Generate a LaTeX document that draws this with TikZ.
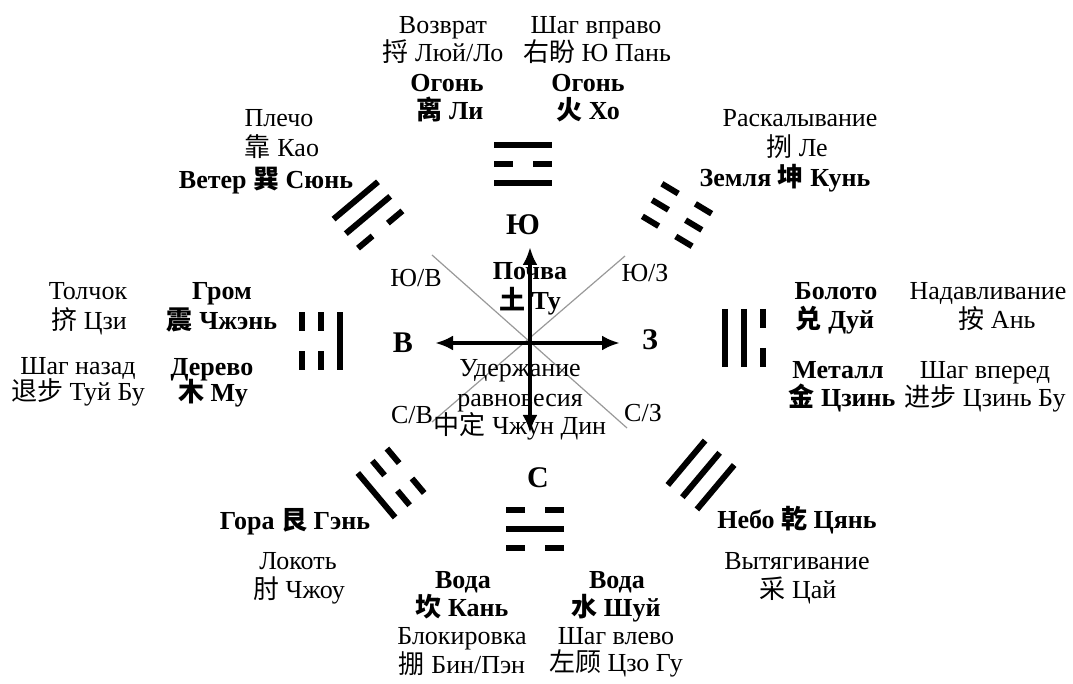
\documentclass[tikz,border=0pt]{standalone}
\usepackage{fontspec}
\setmainfont{Liberation Serif}
\newfontfamily\cjk{Noto Sans CJK SC}
\usepackage{tikz}
\usetikzlibrary{arrows.meta}
\newcommand{\zh}[1]{{\cjk #1}}
% one line of a trigram: 1 = solid, 0 = broken
\newcommand{\yaoline}[2]{%
  \ifnum#1=1 \draw[yao] (-29,#2) -- (29,#2);%
  \else \draw[yao] (-29,#2) -- (-10,#2) (10,#2) -- (29,#2);\fi}
\tikzset{
  yao/.style={line width=3pt},
  lbl/.style={anchor=base, inner sep=0pt, font=\fontsize{13}{15}\selectfont},
  blbl/.style={lbl, font=\fontsize{13}{15}\selectfont\bfseries},
  dirlbl/.style={anchor=base, inner sep=0pt, font=\fontsize{15}{17}\selectfont\bfseries},
  axis/.style={line width=2pt, {Latex[length=9pt,width=7.5pt]}-{Latex[length=9pt,width=7.5pt]}},
  diag/.style={draw=gray!80, line width=0.6pt},
  pics/trigram/.style n args={3}{code={\yaoline{#1}{19}\yaoline{#2}{0}\yaoline{#3}{-19}}}
}

\begin{document}
\begin{tikzpicture}[x=0.5pt, y=-0.5pt]
    \useasboundingbox (0,0) rectangle (1073,684);

    % Compass points
    \coordinate (o) at (530,343);
    \coordinate (up) at (530,247);
    \coordinate (dn) at (530,433);
    \coordinate (lt) at (435,343);
    \coordinate (rt) at (620,343);
    \coordinate (nw) at (432,255);
    \coordinate (se) at (627,428);
    \coordinate (ne) at (625,256);
    \coordinate (sw) at (432,422);

    % Diagonals
    \draw[diag] (nw) -- (se);
    \draw[diag] (ne) -- (sw);

    % Trigrams (inner, middle, outer)
    \pic (li) at (523,164) {trigram={1}{0}{1}};
    \pic[rotate=180] (kan) at (535,529) {trigram={0}{1}{0}};
    \pic[rotate=90] (zhen) at (321,341) {trigram={1}{0}{0}};
    \pic[rotate=-90] (dui) at (744,338) {trigram={1}{1}{0}};
    \pic[rotate=40] (xun) at (368,215) {trigram={0}{1}{1}};
    \pic[rotate=-31] (kun) at (677,215) {trigram={0}{0}{0}};
    \pic[rotate=130] (gen) at (391,483) {trigram={0}{0}{1}};
    \pic[rotate=-130] (qian) at (701,475) {trigram={1}{1}{1}};

    % South, top
    \node[lbl] (lu1) at (443,34) {Возврат};
    \node[lbl] (lu2) at (443,62) {\zh{捋} Люй/Ло};
    \node[blbl] (li1) at (447,92) {Огонь};
    \node[blbl] (li2) at (450,120) {\zh{离} Ли};
    \node[lbl] (yp1) at (596,34) {Шаг вправо};
    \node[lbl] (yp2) at (597,62) {\zh{右盼} Ю Пань};
    \node[blbl] (huo1) at (588,92) {Огонь};
    \node[blbl] (huo2) at (588,120) {\zh{火} Хо};

    % Upper corners
    \node[lbl] (kao1) at (279,127) {Плечо};
    \node[lbl] (kao2) at (282,157) {\zh{靠} Као};
    \node[blbl] (xun1) at (266,189) {Ветер \zh{巽} Сюнь};
    \node[lbl] (lie1) at (800,127) {Раскалывание};
    \node[lbl] (lie2) at (797,157) {\zh{挒} Ле};
    \node[blbl] (kun1) at (785,187) {Земля \zh{坤} Кунь};

    % East, left
    \node[lbl] (ji1) at (88,300) {Толчок};
    \node[lbl] (ji2) at (89,330) {\zh{挤} Цзи};
    \node[lbl] (tb1) at (78,375) {Шаг назад};
    \node[lbl] (tb2) at (78,401) {\zh{退步} Туй Бу};
    \node[blbl] (zh1) at (222,300) {Гром};
    \node[blbl] (zh2) at (222,330) {\zh{震} Чжэнь};
    \node[blbl] (mu1) at (212,376) {Дерево};
    \node[blbl] (mu2) at (213,402) {\zh{木} Му};

    % West, right
    \node[blbl] (dui1) at (836,300) {Болото};
    \node[blbl] (dui2) at (835,329) {\zh{兑} Дуй};
    \node[blbl] (jin1) at (838,379) {Металл};
    \node[blbl] (jin2) at (842,407) {\zh{金} Цзинь};
    \node[lbl] (an1) at (988,300) {Надавливание};
    \node[lbl] (an2) at (997,329) {\zh{按} Ань};
    \node[lbl] (jb1) at (985,379) {Шаг вперед};
    \node[lbl] (jb2) at (985,407) {\zh{进步} Цзинь Бу};

    % Centre
    \node[blbl] (tu1) at (530,280) {Почва};
    \node[blbl] (tu2) at (530,310) {\zh{土} Ту};
    \node[lbl] (zd1) at (520,377) {Удержание};
    \node[lbl] (zd2) at (520,407) {равновесия};
    \node[lbl] (zd3) at (520,435) {\zh{中定} Чжун Дин};
    \node[lbl] (dsw) at (416,287) {Ю/В};
    \node[lbl] (dsz) at (645,282) {Ю/З};
    \node[lbl] (dnw) at (412,424) {С/В};
    \node[lbl] (dnz) at (643,422) {С/З};
    \node[dirlbl] (ds) at (523,235) {Ю};
    \node[dirlbl] (dv) at (403,353) {В};
    \node[dirlbl] (dz) at (650,350) {З};
    \node[dirlbl] (dc) at (538,488) {С};

    % North, bottom
    \node[blbl] (kan1) at (463,589) {Вода};
    \node[blbl] (kan2) at (462,617) {\zh{坎} Кань};
    \node[lbl] (pe1) at (462,645) {Блокировка};
    \node[lbl] (pe2) at (462,674) {\zh{掤} Бин/Пэн};
    \node[blbl] (sh1) at (617,589) {Вода};
    \node[blbl] (sh2) at (616,617) {\zh{水} Шуй};
    \node[lbl] (zg1) at (616,645) {Шаг влево};
    \node[lbl] (zg2) at (616,672) {\zh{左顾} Цзо Гу};

    % Lower corners
    \node[blbl] (gen1) at (295,530) {Гора \zh{艮} Гэнь};
    \node[lbl] (zou1) at (298,570) {Локоть};
    \node[lbl] (zou2) at (299,599) {\zh{肘} Чжоу};
    \node[blbl] (qian1) at (797,529) {Небо \zh{乾} Цянь};
    \node[lbl] (cai1) at (797,570) {Вытягивание};
    \node[lbl] (cai2) at (798,599) {\zh{采} Цай};

    % Axes on top
    \draw[axis] (dn) -- (up);
    \draw[axis] (lt) -- (rt);
\end{tikzpicture}
\end{document}
